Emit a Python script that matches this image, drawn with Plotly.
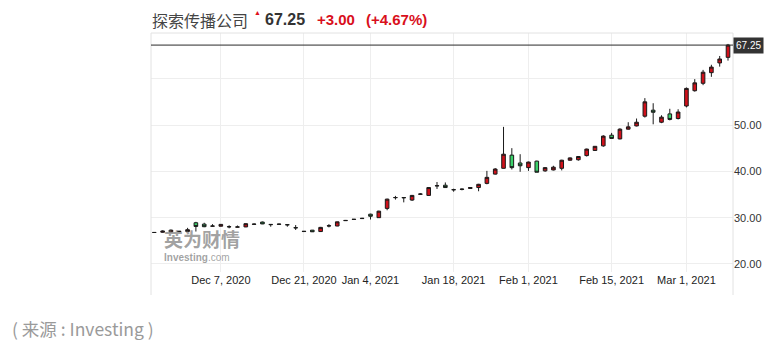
import plotly.graph_objects as go

# ---------------- data ----------------
dates = ["2020-11-24","2020-11-25","2020-11-27","2020-11-30","2020-12-01","2020-12-02","2020-12-03","2020-12-04",
         "2020-12-07","2020-12-08","2020-12-09","2020-12-10","2020-12-11","2020-12-14","2020-12-15","2020-12-16",
         "2020-12-17","2020-12-18","2020-12-21","2020-12-22","2020-12-23","2020-12-24","2020-12-28","2020-12-29",
         "2020-12-30","2020-12-31","2021-01-04","2021-01-05","2021-01-06","2021-01-07","2021-01-08","2021-01-11",
         "2021-01-12","2021-01-13","2021-01-14","2021-01-15","2021-01-19","2021-01-20","2021-01-21","2021-01-22",
         "2021-01-25","2021-01-26","2021-01-27","2021-01-28","2021-01-29","2021-02-01","2021-02-02","2021-02-03",
         "2021-02-04","2021-02-05","2021-02-08","2021-02-09","2021-02-10","2021-02-11","2021-02-12","2021-02-16",
         "2021-02-17","2021-02-18","2021-02-19","2021-02-22","2021-02-23","2021-02-24","2021-02-25","2021-02-26",
         "2021-03-01","2021-03-02","2021-03-03","2021-03-04","2021-03-05","2021-03-08"]

opens  = [26.8, 26.85, 26.95, 27.0, 27.0, 28.9, 28.6, 28.15, 28.15, 28.0, 27.95, 28.0, 28.55, 29.05, 28.55, 28.55,
          28.5, 27.85, 27.0, 27.3, 27.0, 28.2, 28.2, 29.35, 29.6, 29.8, 30.75, 30.0, 32.0, 34.3, 34.35, 33.8,
          35.05, 34.8, 36.85, 37.0, 36.0, 36.1, 36.3, 36.5, 37.4, 39.4, 40.65, 43.5, 41.8, 40.8, 42.2, 40.1,
          40.3, 40.65, 42.4, 42.5, 43.4, 44.5, 45.5, 47.8, 47.0, 49.1, 49.8, 51.9, 53.2, 50.6, 52.4, 51.4,
          54.1, 57.4, 59.0, 61.3, 63.4, 64.6]
highs  = [26.9, 27.25, 27.45, 27.15, 27.8, 29.1, 28.9, 28.6, 28.6, 28.35, 28.3, 28.75, 28.75, 29.15, 28.6, 28.7,
          28.55, 28.4, 27.1, 27.35, 28.0, 28.6, 29.15, 29.5, 29.7, 29.95, 30.85, 31.5, 34.1, 34.7, 34.4, 34.9,
          35.3, 36.6, 37.7, 37.6, 36.25, 36.3, 36.55, 37.3, 40.1, 40.7, 49.6, 45.0, 43.7, 42.1, 42.3, 40.9,
          41.2, 42.5, 43.0, 43.3, 44.9, 45.4, 47.8, 48.3, 49.3, 50.6, 51.4, 55.8, 54.7, 52.1, 53.5, 53.4,
          58.1, 59.9, 61.9, 63.0, 64.9, 67.5]
lows   = [26.7, 26.75, 26.9, 26.9, 26.9, 27.0, 27.95, 28.1, 28.1, 27.7, 27.9, 27.95, 28.5, 28.6, 28.05, 28.45,
          28.05, 27.35, 26.95, 26.9, 26.9, 27.9, 28.15, 29.3, 29.5, 29.75, 29.6, 29.95, 31.6, 33.9, 33.3, 33.6,
          34.9, 34.7, 36.2, 36.45, 35.6, 35.9, 36.2, 35.7, 37.2, 39.3, 40.6, 40.4, 39.9, 40.1, 39.8, 39.9,
          40.2, 40.2, 42.3, 42.3, 43.2, 44.4, 45.3, 47.1, 46.9, 49.0, 49.7, 51.6, 50.15, 50.4, 51.0, 51.2,
          53.8, 57.2, 58.6, 60.4, 62.6, 63.9]
closes = [26.8, 27.1, 27.3, 27.05, 27.4, 28.1, 28.05, 28.2, 28.55, 28.05, 28.0, 28.7, 28.6, 28.65, 28.5, 28.6,
          28.45, 27.8, 27.05, 26.95, 27.9, 28.25, 29.1, 29.4, 29.65, 29.85, 30.3, 31.4, 34.0, 34.35, 34.3, 34.8,
          35.1, 36.5, 36.9, 36.5, 36.05, 36.15, 36.5, 37.2, 38.7, 40.5, 43.7, 40.8, 41.2, 42.0, 39.8, 40.8,
          40.9, 42.4, 42.9, 43.2, 44.8, 45.4, 47.6, 47.1, 49.1, 49.6, 50.6, 55.0, 52.75, 51.7, 51.2, 52.8,
          57.9, 59.1, 61.4, 62.5, 64.25, 67.25]

tick_dates  = ["2020-12-07", "2020-12-21", "2021-01-04", "2021-01-19", "2021-02-01", "2021-02-16", "2021-03-01"]
tick_labels = ["Dec 7, 2020", "Dec 21, 2020", "Jan 4, 2021", "Jan 18, 2021", "Feb 1, 2021", "Feb 15, 2021", "Mar 1, 2021"]

y_ticks  = [20, 30, 40, 50, 60]
y_labels = ["20.00", "30.00", "40.00", "50.00", ""]

title_name = "探索传播公司"
last_price = "67.25"
change_abs = "+3.00"
change_pct = "(+4.67%)"
source_text = "( 来源 : Investing )"

# ---------------- layout geometry ----------------
W, H = 779, 352
L, R, T, B = 151, 733, 33, 272
def px(x):
    return (x - L) / (R - L)
def py(y):
    return (B - y) / (B - T)

fig = go.Figure()
fig.add_trace(go.Candlestick(
    x=dates, open=opens, high=highs, low=lows, close=closes,
    increasing=dict(line=dict(color="#1a1a1a", width=1), fillcolor="#d0101a"),
    decreasing=dict(line=dict(color="#1a1a1a", width=1), fillcolor="#3ad16a"),
    whiskerwidth=0, showlegend=False, hoverinfo="skip",
))

fig.update_layout(
    width=W, height=H,
    margin=dict(l=L, r=W - R, t=T, b=H - B),
    paper_bgcolor="white", plot_bgcolor="white",
    boxgap=0.38,
    showlegend=False,
    font=dict(family="Arial, Liberation Sans, sans-serif", color="#333", size=11),
)
fig.update_xaxes(
    type="category", range=[-0.4, len(dates) - 0.4],
    tickmode="array", tickvals=tick_dates, ticktext=tick_labels,
    showgrid=True, gridcolor="#eeeeee", gridwidth=1,
    showline=False, zeroline=False, ticks="",
    tickfont=dict(size=11, color="#222"),
    rangeslider=dict(visible=False), fixedrange=True,
)
fig.update_yaxes(
    side="right", range=[18.27, 69.86],
    tickmode="array", tickvals=y_ticks, ticktext=y_labels,
    showgrid=True, gridcolor="#eeeeee", gridwidth=1,
    showline=False, zeroline=False, ticks="",
    tickfont=dict(size=11, color="#333"),
)

# frame lines
frame_col = "#e2e2e2"
fig.add_shape(type="line", xref="paper", yref="paper", x0=0, x1=1, y0=1, y1=1, line=dict(color=frame_col, width=1))
fig.add_shape(type="line", xref="paper", yref="paper", x0=0, x1=0, y0=py(295), y1=1, line=dict(color=frame_col, width=1))
fig.add_shape(type="line", xref="paper", yref="paper", x0=1, x1=1, y0=py(295), y1=1, line=dict(color=frame_col, width=1))

# current price line + label
fig.add_shape(type="line", xref="paper", yref="y", x0=0, x1=1, y0=closes[-1], y1=closes[-1],
              line=dict(color="#2a2a2a", width=1))
fig.add_annotation(xref="paper", yref="y", x=1, y=closes[-1], xanchor="left", yanchor="middle",
                   text=f"{closes[-1]:.2f}", showarrow=False, bgcolor="#333333", borderpad=2,
                   font=dict(color="white", size=10, family="Arial, Liberation Sans, sans-serif"))

# header
cjk = "Noto Sans CJK SC, sans-serif"
fig.add_annotation(xref="paper", yref="paper", x=px(150), y=py(20), xanchor="left", yanchor="middle",
                   text=title_name, showarrow=False, font=dict(family=cjk, size=16, color="#444"))
fig.add_annotation(xref="paper", yref="paper", x=px(252), y=py(12), xanchor="left", yanchor="middle",
                   text="▲", showarrow=False, font=dict(size=7, color="#e0101a"))
fig.add_annotation(xref="paper", yref="paper", x=px(263), y=py(20), xanchor="left", yanchor="middle",
                   text=f"<b>{last_price}</b>", showarrow=False,
                   font=dict(family="Arial, Liberation Sans, sans-serif", size=16, color="#333"))
fig.add_annotation(xref="paper", yref="paper", x=px(315), y=py(20), xanchor="left", yanchor="middle",
                   text=f"<b>{change_abs}</b>", showarrow=False,
                   font=dict(family="Arial, Liberation Sans, sans-serif", size=15, color="#d9101c"))
fig.add_annotation(xref="paper", yref="paper", x=px(364), y=py(20), xanchor="left", yanchor="middle",
                   text=f"<b>{change_pct}</b>", showarrow=False,
                   font=dict(family="Arial, Liberation Sans, sans-serif", size=15, color="#d9101c"))

# watermark
fig.add_annotation(xref="paper", yref="paper", x=px(163), y=py(238), xanchor="left", yanchor="middle",
                   text="<b>英为财情</b>", showarrow=False, borderpad=0,
                   font=dict(family=cjk, size=19, color="rgba(100,100,100,0.6)"))
fig.add_annotation(xref="paper", yref="paper", x=px(163), y=py(257), xanchor="left", yanchor="middle",
                   text="<b>Investing</b>.com", showarrow=False, borderpad=0,
                   font=dict(family="Arial, Liberation Sans, sans-serif", size=10, color="rgba(100,100,100,0.6)"))

# source caption
fig.add_annotation(xref="paper", yref="paper", x=px(10), y=py(328), xanchor="left", yanchor="middle",
                   text=source_text, showarrow=False, font=dict(family=cjk, size=17.5, color="#9a9a9a"))

fig.write_html("out.html")
